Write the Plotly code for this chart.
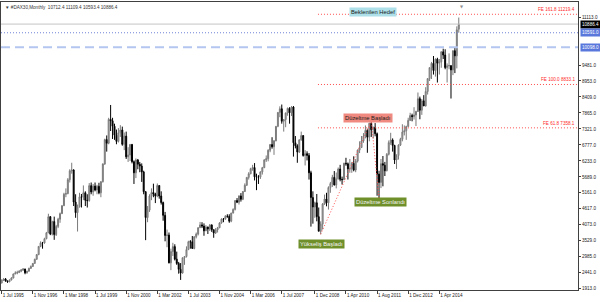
import plotly.graph_objects as go

# ---------------- data (monthly OHLC, #DAX30, Jul 1995 .. Feb 2015) ----------------
months = []
for yr in range(1995, 2016):
    for mo in range(1, 13):
        if (yr, mo) < (1995, 7) or (yr, mo) > (2015, 2):
            continue
        months.append(f"{yr}-{mo:02d}")

open_ = [
    2082, 2186, 2218, 2147, 2124, 2188,
    2254, 2392, 2424, 2438, 2484, 2519, 2557, 2430, 2484, 2583, 2646, 2749,
    2889, 3048, 3327, 3448, 3446, 3589, 3789, 4337, 3745, 4170, 3728, 4008,
    4250, 4441, 4710, 5101, 5123, 5596, 5898, 5925, 4834, 4474, 4671, 5012,
    5002, 5151, 4894, 4884, 5393, 5179, 5378, 5245, 5371, 5150, 5525, 6130,
    6958, 6835, 7644, 7599, 7414, 7109, 6898, 7190, 7286, 6798, 7077, 6372,
    6434, 6795, 6208, 5830, 6265, 6123, 6059, 5861, 5188, 4308, 4560, 5040,
    5160, 5108, 5039, 5397, 5041, 4818, 4383, 3700, 3712, 2769, 3153, 3320,
    2893, 2748, 2547, 2424, 2942, 2983, 3221, 3487, 3485, 3257, 3656, 3745,
    3965, 4059, 4018, 3857, 3985, 3921, 4052, 3896, 3785, 3893, 3960, 4126,
    4256, 4254, 4350, 4349, 4185, 4461, 4586, 4886, 4829, 5044, 4929, 5193,
    5408, 5674, 5797, 5970, 6009, 5693, 5683, 5682, 5860, 6004, 6269, 6309,
    6597, 6789, 6715, 6917, 7409, 7883, 8007, 7584, 7638, 7862, 8020, 7871,
    8067, 6851, 6748, 6535, 6949, 7097, 6418, 6479, 6422, 5831, 4988, 4669,
    4810, 4338, 3844, 4085, 4770, 4941, 4809, 5332, 5465, 5675, 5415, 5626,
    5957, 5608, 5598, 6154, 6136, 5964, 5966, 6148, 5925, 6229, 6601, 6688,
    6914, 7077, 7272, 7041, 7514, 7294, 7376, 7159, 5785, 5502, 6141, 6089,
    5898, 6458, 6856, 6947, 6761, 6264, 6416, 6772, 6971, 7216, 7260, 7406,
    7612, 7776, 7741, 7795, 7914, 8349, 7959, 8276, 8104, 8594, 9033, 9406,
    9552, 9306, 9692, 9556, 9603, 9943, 9833, 9407, 9470, 9474, 9327, 9981,
    9806, 10712.4,
]
high = [
    2200, 2240, 2250, 2170, 2200, 2280,
    2400, 2480, 2500, 2520, 2560, 2590, 2570, 2500, 2600, 2680, 2760, 2910,
    3070, 3340, 3500, 3480, 3620, 3820, 4438, 4360, 4200, 4340, 4060, 4300,
    4480, 4730, 5150, 5300, 5650, 5950, 6171, 5950, 5100, 4750, 5150, 5110,
    5400, 5200, 5100, 5480, 5500, 5450, 5500, 5420, 5490, 5550, 6150, 6990,
    7100, 7700, 8136, 7700, 7500, 7300, 7350, 7450, 7400, 7200, 7230, 6700,
    6800, 6810, 6250, 6320, 6300, 6200, 6150, 5900, 5200, 4700, 5100, 5300,
    5460, 5150, 5467, 5400, 5200, 4850, 4500, 3900, 3800, 3250, 3450, 3400,
    3150, 2800, 2760, 2950, 3000, 3330, 3520, 3540, 3680, 3670, 3800, 3970,
    4160, 4150, 4110, 4050, 4000, 4090, 4080, 3900, 3950, 3990, 4150, 4280,
    4290, 4390, 4420, 4420, 4470, 4620, 4900, 4970, 5060, 5140, 5210, 5470,
    5680, 5850, 6000, 6100, 6160, 5800, 5750, 5880, 6030, 6290, 6420, 6630,
    6810, 7040, 6940, 7420, 7890, 8090, 8151, 7650, 7880, 8050, 8060, 8100,
    8100, 7080, 6800, 6970, 7230, 7100, 6600, 6560, 6500, 5900, 5200, 4850,
    5110, 4650, 4180, 4800, 5090, 5150, 5370, 5520, 5760, 5890, 5840, 6010,
    6100, 5700, 6170, 6340, 6180, 6300, 6200, 6390, 6300, 6620, 6900, 7080,
    7180, 7440, 7330, 7530, 7600.4, 7400, 7520, 7200, 5900, 6300, 6400, 6200,
    6500, 6930, 7190, 7000, 6780, 6460, 6800, 7020, 7480, 7440, 7430, 7700,
    7870, 7840, 8060, 7940, 8560, 8420, 8340, 8470, 8740, 9040, 9410, 9600,
    9800, 9720, 9740, 9700, 9960, 10050, 10030, 9550, 9890, 9480, 9990, 10090,
    10810, 11109.4,
]
low = [
    2070, 2150, 2130, 2090, 2110, 2170,
    2240, 2380, 2380, 2420, 2450, 2500, 2380, 2400, 2470, 2560, 2630, 2740,
    2870, 3030, 3300, 3250, 3420, 3570, 3780, 3710, 3700, 3550, 3680, 3950,
    4130, 4430, 4700, 5000, 5100, 5500, 5800, 4700, 4300, 3833, 4650, 4650,
    4900, 4700, 4650, 4850, 5100, 5050, 5200, 5100, 5100, 5000, 5500, 6100,
    6550, 6800, 7250, 6980, 6950, 6800, 6860, 7050, 6750, 6600, 6300, 6200,
    6230, 6150, 5450, 5650, 5950, 5850, 5520, 5100, 3540, 4150, 4500, 4900,
    5000, 4800, 5000, 4950, 4750, 4200, 3500, 3300, 2750, 2520, 3000, 2850,
    2700, 2400, 2188, 2400, 2700, 2950, 3200, 3250, 3250, 3230, 3600, 3700,
    3950, 3950, 3690, 3850, 3750, 3850, 3820, 3620, 3750, 3800, 3950, 4100,
    4150, 4240, 4300, 4130, 4150, 4450, 4550, 4800, 4750, 4850, 4900, 5180,
    5380, 5600, 5780, 5900, 5570, 5240, 5450, 5620, 5770, 5990, 6200, 6220,
    6530, 6650, 6440, 6900, 7380, 7720, 7500, 7230, 7380, 7770, 7500, 7760,
    6380, 6660, 6170, 6500, 6920, 6380, 6080, 6250, 5600, 4000, 4100, 4300,
    4180, 3840, 3740, 3900, 4740, 4690, 4580, 5150, 5350, 5400, 5300, 5600,
    5540, 5430, 5580, 6070, 5600, 5830, 5830, 5880, 5850, 6180, 6500, 6690,
    6850, 7000, 6510, 6900, 7050, 7000, 7070, 5050, 4972, 5310, 5370, 5720,
    5880, 6420, 6780, 6550, 6130, 5960, 6280, 6740, 6900, 7100, 6950, 7400,
    7590, 7580, 7640, 7420, 7900, 7650, 7800, 8100, 8080, 8490, 8950, 9020,
    9170, 9100, 8900, 9170, 9400, 9700, 9350, 8900, 9350, 8355, 9150, 9220,
    9380, 10593.4,
]
close = [
    2186, 2218, 2147, 2124, 2188, 2254,
    2392, 2424, 2438, 2484, 2519, 2557, 2430, 2484, 2583, 2646, 2749, 2889,
    3048, 3327, 3448, 3446, 3589, 3789, 4337, 3745, 4170, 3728, 4008, 4250,
    4441, 4710, 5101, 5123, 5596, 5898, 5925, 4834, 4474, 4671, 5012, 5002,
    5151, 4894, 4884, 5393, 5179, 5378, 5245, 5371, 5150, 5525, 6130, 6958,
    6835, 7644, 7599, 7414, 7109, 6898, 7190, 7286, 6798, 7077, 6372, 6434,
    6795, 6208, 5830, 6265, 6123, 6059, 5861, 5188, 4308, 4560, 5040, 5160,
    5108, 5039, 5397, 5041, 4818, 4383, 3700, 3712, 2769, 3153, 3320, 2893,
    2748, 2547, 2424, 2942, 2983, 3221, 3487, 3485, 3257, 3656, 3745, 3965,
    4059, 4018, 3857, 3985, 3921, 4052, 3896, 3785, 3893, 3960, 4126, 4256,
    4254, 4350, 4349, 4185, 4461, 4586, 4886, 4829, 5044, 4929, 5193, 5408,
    5674, 5797, 5970, 6009, 5693, 5683, 5682, 5860, 6004, 6269, 6309, 6597,
    6789, 6715, 6917, 7409, 7883, 8007, 7584, 7638, 7862, 8020, 7871, 8067,
    6851, 6748, 6535, 6949, 7097, 6418, 6479, 6422, 5831, 4988, 4669, 4810,
    4338, 3844, 4085, 4770, 4941, 4809, 5332, 5465, 5675, 5415, 5626, 5957,
    5608, 5598, 6154, 6136, 5964, 5966, 6148, 5925, 6229, 6601, 6688, 6914,
    7077, 7272, 7041, 7514, 7294, 7376, 7159, 5785, 5502, 6141, 6089, 5898,
    6458, 6856, 6947, 6761, 6264, 6416, 6772, 6971, 7216, 7260, 7406, 7612,
    7776, 7741, 7795, 7914, 8349, 7959, 8276, 8104, 8594, 9033, 9406, 9552,
    9306, 9692, 9556, 9603, 9943, 9833, 9407, 9470, 9474, 9327, 9981, 9806,
    10694, 10886.4,
]
assert len(months) == len(open_) == len(high) == len(low) == len(close), (
    len(months), len(open_), len(high), len(low), len(close))

# x-axis labels
xtick_months = ["1995-07", "1996-11", "1998-03", "1999-07", "2000-11", "2002-03",
                "2003-07", "2004-11", "2006-03", "2007-07", "2008-12", "2010-04",
                "2011-08", "2012-12", "2014-04"]
xtick_text = ["1 Jul 1995", "1 Nov 1996", "1 Mar 1998", "1 Jul 1999", "1 Nov 2000",
              "1 Mar 2002", "1 Jul 2003", "1 Nov 2004", "1 Mar 2006", "1 Jul 2007",
              "1 Dec 2008", "1 Apr 2010", "1 Aug 2011", "1 Dec 2012", "1 Apr 2014"]

# price-scale labels
ytick_vals = [1913, 2441, 2985, 3529, 4073, 4617, 5161, 5689, 6233, 6777, 7321,
              7865, 8409, 8953, 9481, 11113]
ytick_text = ["1913.0", "2441.0", "2985.0", "3529.0", "4073.0", "4617.0", "5161.0",
              "5689.0", "6233.0", "6777.0", "7321.0", "7865.0", "8409.0", "8953.0",
              "9481.0", "11113.0"]

# Fibonacci expansion (A, B, C) and its levels
fe_points_x = ["2009-03", "2011-05", "2011-09"]
fe_points_y = [3739.1, 7600.4, 4971.8]
fe_levels = [7358.1, 8833.1, 11219.4]
fe_labels = ["FE 61.8 7358.1", "FE 100.0 8833.1", "FE 161.8 11219.4"]

# horizontal price lines
bid_price = 10886.4
blue_dot_price = 10591.0
blue_dash_price = 10098.0

title_text = "▼ #DAX30,Monthly  10712.4 11109.4 10593.4 10886.4"

# ---------------- figure ----------------
FONT = "Liberation Sans, Arial, sans-serif"
X0, X1 = -0.36, 296.3
Y0, Y1 = 1845, 11637
RED = "#ff4d4d"
DOT = "1px,2px"

fig = go.Figure()
fig.add_trace(go.Candlestick(
    x=months, open=open_, high=high, low=low, close=close,
    increasing=dict(line=dict(color="#7a7a7a", width=1), fillcolor="#b4b4b4"),
    decreasing=dict(line=dict(color="#000000", width=1), fillcolor="#000000"),
    whiskerwidth=0, showlegend=False, hoverinfo="skip",
))
fig.add_trace(go.Scatter(
    x=fe_points_x, y=fe_points_y, mode="lines",
    line=dict(color=RED, width=1, dash=DOT),
    showlegend=False, hoverinfo="skip",
))

shapes = []
shapes.append(dict(type="line", xref="paper", yref="y", x0=0, x1=1,
                   y0=bid_price, y1=bid_price, line=dict(color="#c4c4c4", width=1)))
shapes.append(dict(type="line", xref="paper", yref="y", x0=0, x1=1,
                   y0=blue_dot_price, y1=blue_dot_price,
                   line=dict(color="#6f82d8", width=1, dash=DOT)))
shapes.append(dict(type="line", xref="paper", yref="y", x0=0, x1=1,
                   y0=blue_dash_price, y1=blue_dash_price,
                   line=dict(color="#b4c6ef", width=2, dash="9px,5px")))
for lv in fe_levels:
    shapes.append(dict(type="line", xref="x", yref="y", x0=162.6, x1=X1,
                       y0=lv, y1=lv, line=dict(color=RED, width=1, dash=DOT)))

annotations = []
for lv, txt in zip(fe_levels, fe_labels):
    annotations.append(dict(xref="paper", yref="y", x=0.998, y=lv, text=txt,
                            xanchor="right", yanchor="bottom", showarrow=False,
                            font=dict(family=FONT, size=4.6, color="#ff2a2a")))

for price, txt, bg in [(bid_price, "10886.4", "#000000"),
                       (blue_dot_price, "10591.0", "#5a78dc"),
                       (blue_dash_price, "10098.0", "#5a78dc")]:
    annotations.append(dict(xref="paper", yref="y", x=1, xshift=2, y=price, text=txt,
                            xanchor="left", yanchor="middle", showarrow=False,
                            bgcolor=bg, borderpad=1,
                            font=dict(family=FONT, size=4.6, color="#ffffff")))

for x, y, txt, bg, fc in [
    (190.9, 11282, "Beklenilen Hedef", "#aee0ea", "#1a1a1a"),
    (188.1, 7709, "Düzeltme Başladı", "#f08a80", "#1a1a1a"),
    (194.8, 4845, "Düzeltme Sonlandı", "#6f8f2a", "#f4f4f4"),
    (164.2, 3396, "Yükseliş Başladı", "#6f8f2a", "#f4f4f4"),
]:
    annotations.append(dict(xref="x", yref="y", x=x, y=y, text=txt, showarrow=False,
                            xanchor="center", yanchor="middle", bgcolor=bg, borderpad=1,
                            font=dict(family=FONT, size=5.8, color=fc)))

annotations.append(dict(xref="paper", yref="paper", x=0.004, y=0.995, text=title_text,
                        xanchor="left", yanchor="top", showarrow=False,
                        font=dict(family=FONT, size=4.6, color="#333333")))
annotations.append(dict(xref="x", yref="paper", x=236.7, y=1.0, text="▼",
                        xanchor="center", yanchor="top", showarrow=False,
                        font=dict(family="DejaVu Sans", size=4, color="#909090")))

fig.update_layout(
    width=600, height=302,
    margin=dict(l=1, r=22, t=2, b=12, pad=0),
    paper_bgcolor="#ffffff", plot_bgcolor="#ffffff",
    font=dict(family=FONT, size=4.6, color="#222222"),
    shapes=shapes, annotations=annotations,
    xaxis=dict(type="category", range=[X0, X1], rangeslider=dict(visible=False),
               showgrid=False, zeroline=False, showline=True, mirror=True,
               linecolor="#404040", linewidth=1,
               ticks="outside", ticklen=3, tickcolor="#404040", tickwidth=1,
               tickmode="array", tickvals=xtick_months, ticktext=xtick_text,
               ticklabelposition="outside right", tickangle=0,
               tickfont=dict(family=FONT, size=4.6, color="#222222"),
               fixedrange=True),
    yaxis=dict(side="right", range=[Y0, Y1], showgrid=False, zeroline=False,
               showline=True, mirror=True, linecolor="#404040", linewidth=1,
               ticks="outside", ticklen=2, tickcolor="#404040", tickwidth=1,
               tickmode="array", tickvals=ytick_vals, ticktext=ytick_text,
               tickfont=dict(family=FONT, size=4.6, color="#222222"),
               fixedrange=True),
    showlegend=False,
)

fig.write_html("out.html")
